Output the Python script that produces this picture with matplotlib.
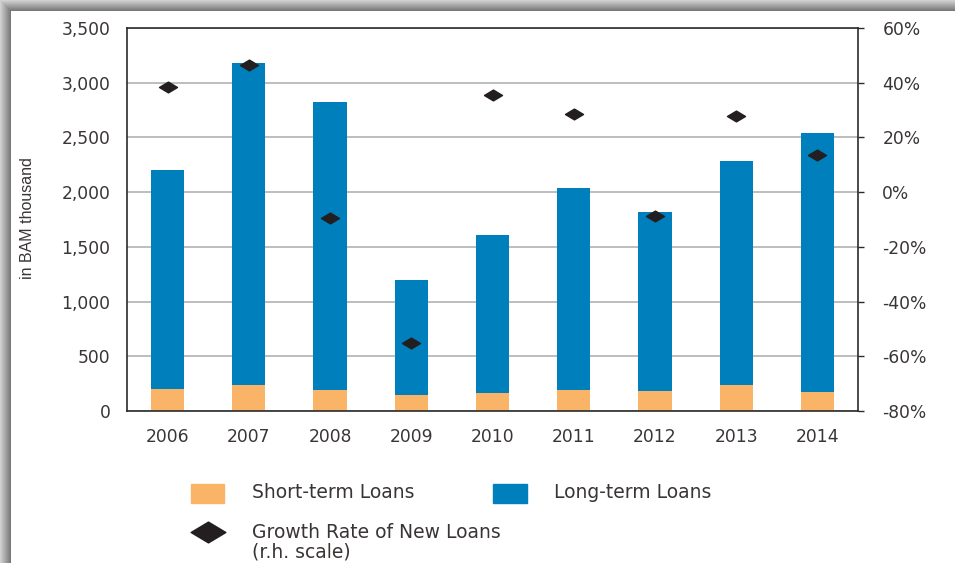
import numpy as np
import matplotlib
matplotlib.use('Agg')
import matplotlib.pyplot as plt
from matplotlib.patches import Rectangle
from matplotlib.path import Path
from matplotlib.lines import Line2D

# Loans data, in BAM thousand, and growth of new loans in %
years = ['2006', '2007', '2008', '2009', '2010', '2011', '2012', '2013', '2014']
total_loans = [2200, 3180, 2820, 1200, 1610, 2040, 1820, 2285, 2545]
short_term = [205, 240, 190, 150, 165, 190, 185, 240, 170]
growth_rate = [38.5, 46.5, -9.5, -55.0, 35.5, 28.5, -8.7, 27.7, 13.5]

long_term = [t - s for t, s in zip(total_loans, short_term)]

ORANGE = '#f9b468'
BLUE = '#007fbd'
DIAMOND = '#231f20'
TXT = '#3a3535'
FONT = 'DejaVu Sans'
FS = 12.3

# flat diamond marker
diamond = Path([(-1, 0), (0, 0.6), (1, 0), (0, -0.6), (-1, 0)],
               [Path.MOVETO, Path.LINETO, Path.LINETO, Path.LINETO, Path.CLOSEPOLY])

fig = plt.figure(figsize=(9.55, 5.63), dpi=100)
W, H = 955, 563

ax = fig.add_axes([127 / W, 1 - 411 / H, (858 - 127) / W, (411 - 28) / H])
x = np.arange(len(years))
ax.bar(x, short_term, width=0.41, color=ORANGE, zorder=2)
ax.bar(x, long_term, width=0.41, bottom=short_term, color=BLUE, zorder=2)

ax.set_xlim(-0.5, len(years) - 0.5)
ax.set_ylim(0, 3500)
ax.set_yticks(np.arange(0, 3501, 500))
ax.set_yticklabels([f'{v:,}' for v in range(0, 3501, 500)])
ax.set_xticks(x)
ax.set_xticklabels(years)
ax.yaxis.grid(True, color='#bdbdbd', lw=1.4, zorder=0)
ax.set_axisbelow(True)
ax.tick_params(axis='y', length=0, pad=12, labelsize=FS, labelcolor=TXT)
ax.tick_params(axis='x', length=0, pad=12, labelsize=FS, labelcolor=TXT)
for lab in ax.get_xticklabels() + ax.get_yticklabels():
    lab.set_fontfamily(FONT)
for side in ['left', 'bottom', 'top']:
    ax.spines[side].set_color('#2b2b2b')
    ax.spines[side].set_linewidth(1.2)
ax.spines['right'].set_visible(False)
ax.set_ylabel('in BAM thousand', fontsize=11.5, color=TXT,
              family=['Liberation Sans', 'DejaVu Sans'])
ax.yaxis.set_label_coords(-0.126, 0.504)

ax2 = ax.twinx()
ax2.plot(x, growth_rate, linestyle='none', marker=diamond, markersize=13,
         color=DIAMOND, zorder=4)
ax2.set_ylim(-80, 60)
ax2.set_yticks(np.arange(-80, 61, 20))
ax2.set_yticklabels([f'{v}%' for v in range(-80, 61, 20)])
ax2.tick_params(axis='y', direction='out', length=4.5, width=1, color='#2b2b2b',
                pad=13, labelsize=FS, labelcolor=TXT)
for lab in ax2.get_yticklabels():
    lab.set_fontfamily(FONT)
for side in ['left', 'bottom', 'top']:
    ax2.spines[side].set_visible(False)
ax2.spines['right'].set_color('#2b2b2b')
ax2.spines['right'].set_linewidth(1.2)

# legend keys laid out by hand in pixel coordinates
def fx(px):
    return px / W

def fy(py):
    return 1 - py / H

fig.add_artist(Rectangle((fx(191), fy(503)), 33 / W, 19 / H, color=ORANGE,
                         transform=fig.transFigure))
fig.add_artist(Rectangle((fx(493), fy(503)), 34 / W, 19 / H, color=BLUE,
                         transform=fig.transFigure))
fig.add_artist(Line2D([fx(208)], [fy(532)], marker=diamond, markersize=25,
                      color=DIAMOND, linestyle='none', transform=fig.transFigure))
fig.text(fx(252), fy(493), 'Short-term Loans', fontsize=13.5, color=TXT,
         family=FONT, va='center')
fig.text(fx(554), fy(493), 'Long-term Loans', fontsize=13.5, color=TXT,
         family=FONT, va='center')
fig.text(fx(252), fy(542), 'Growth Rate of New Loans\n(r.h. scale)', fontsize=13.5,
         color=TXT, family=FONT, va='center', linespacing=1.05)

# shaded frame along the top and left edges
for i in range(11):
    g = 0.82 - 0.035 * i
    fig.add_artist(Rectangle((fx(i), 0), 1 / W, fy(i), color=(g, g, g),
                             transform=fig.transFigure, lw=0))
    fig.add_artist(Rectangle((fx(i), fy(i + 1)), 1 - fx(i), 1 / H, color=(g, g, g),
                             transform=fig.transFigure, lw=0))

fig.savefig('out.png', dpi=100)
